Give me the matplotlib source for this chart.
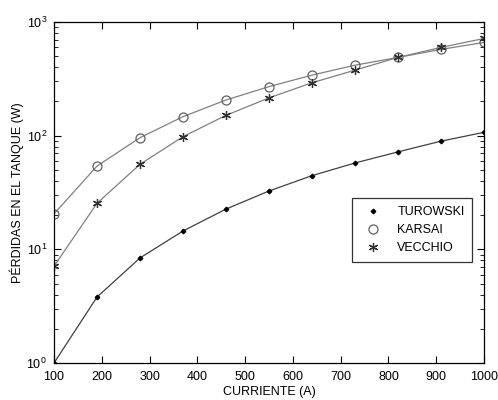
import matplotlib
matplotlib.use("Agg")
import matplotlib.pyplot as plt
from matplotlib.ticker import LogLocator, NullFormatter

plt.rcParams['font.family'] = ['Liberation Sans', 'DejaVu Sans']
plt.rcParams['mathtext.fontset'] = 'custom'
plt.rcParams['mathtext.rm'] = 'Liberation Sans'
plt.rcParams['mathtext.it'] = 'Liberation Sans'

corriente = [100, 190, 280, 370, 460, 550, 640, 730, 820, 910, 1000]
turowski = [1.0, 3.8, 8.4, 14.5, 22.6, 32.6, 44.5, 57.5, 72, 89.5, 107]
karsai = [20.5, 54, 96, 147, 206, 270, 341, 417, 488, 574, 661]
vecchio = [7.1, 25.4, 56, 98, 151, 215, 292, 377, 488, 598, 716]

fig = plt.figure(figsize=(4.98, 4.00), dpi=100)
ax = fig.add_axes([54/498, 1 - 363/400, 430/498, 341/400])

ax.plot(corriente, turowski, color='#404040', lw=0.9, marker='D', ms=2.3,
        mfc='black', mec='black', label='TUROWSKI')
ax.plot(corriente, karsai, color='#808080', lw=0.9, marker='o', ms=6.5,
        mfc='none', mec='#606060', mew=0.9, label='KARSAI')
ax.plot(corriente, vecchio, color='#808080', lw=0.9, marker=(6, 2, 0), ms=6.5,
        mec='#303030', mew=0.9, label='VECCHIO')

ax.set_yscale('log')
ax.set_xlim(100, 1000)
ax.set_ylim(1, 1000)
ax.set_xticks([100, 200, 300, 400, 500, 600, 700, 800, 900, 1000])
ax.yaxis.set_major_locator(LogLocator(base=10, numticks=10))
ax.yaxis.set_minor_locator(LogLocator(base=10, subs=range(2, 10), numticks=10))
ax.yaxis.set_minor_formatter(NullFormatter())
ax.tick_params(which='both', direction='in', top=True, right=True,
               labelsize=9, color='black')
ax.tick_params(which='major', length=5)
ax.tick_params(which='minor', length=3)
ax.tick_params(axis='x', pad=6)
ax.tick_params(axis='y', pad=5)
for s in ax.spines.values():
    s.set_linewidth(0.9)

ax.set_xlabel('CURRIENTE (A)', fontsize=9, labelpad=2)
ax.set_ylabel('PÉRDIDAS EN EL TANQUE (W)', fontsize=9, labelpad=2)

leg = ax.legend(loc='upper left', bbox_to_anchor=(0.679, 0.501), frameon=True,
                fancybox=False, edgecolor='black', fontsize=9,
                handlelength=2.2, borderpad=0.6, labelspacing=0.5)
for h in leg.legend_handles:
    h.set_linestyle('none')
leg.get_frame().set_linewidth(0.9)

fig.savefig('out.png', dpi=100, facecolor='white')
